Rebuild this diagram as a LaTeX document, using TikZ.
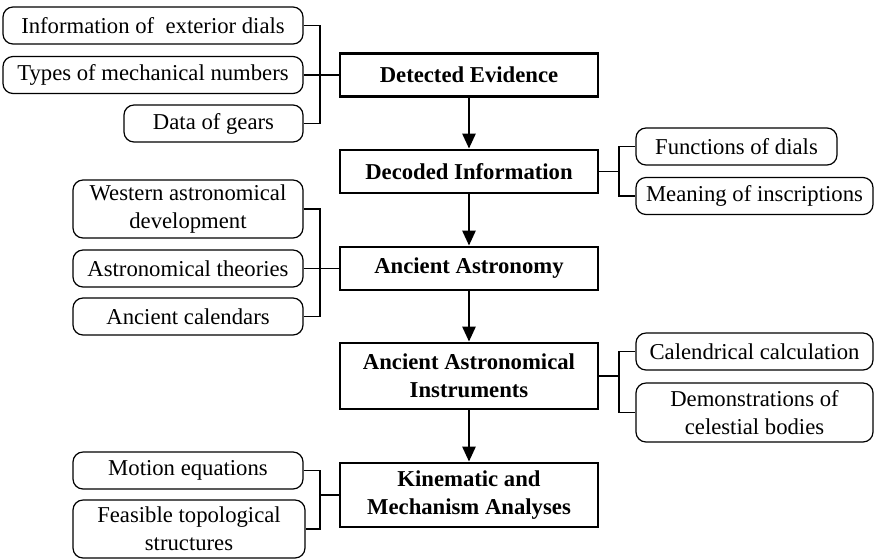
\documentclass[tikz,border=0pt]{standalone}
\usepackage{fontspec}
\setmainfont{Liberation Serif}
\usepackage{tikz}
\usetikzlibrary{arrows.meta}

\begin{document}
\begin{tikzpicture}[x=0.5pt,y=-0.5pt,
    every node/.style={font=\fontsize{11.35}{13.9}\selectfont},
    item/.style={draw,rounded corners=5pt,line width=0.6pt,inner sep=0pt,
        minimum height=18.5pt,align=center},
    stage/.style={draw,line width=1.4pt,inner sep=0pt,minimum width=129pt,
        minimum height=21.5pt,align=center,font=\fontsize{11.35}{13.9}\selectfont\bfseries},
    link/.style={line width=0.6pt},
    flow/.style={line width=1.3pt,-{Triangle[length=7.5pt,width=6.5pt]}}]
\useasboundingbox (0,0) rectangle (874,559);

\node[stage] (ev) at (469,75) {Detected Evidence};
\node[stage] (dec) at (469,171.5) {Decoded Information};
\node[stage] (ast) at (469,268.5) {Ancient Astronomy};
\node[stage,minimum height=33pt] (ins) at (469,376) {Ancient Astronomical\\Instruments};
\node[stage,minimum height=32pt] (kin) at (469,495) {Kinematic and\\Mechanism Analyses};

\node[item,minimum width=150pt] (info) at (153,25.5) {Information of\ \ exterior dials};
\node[item,minimum width=150pt] (types) at (153,75) {Types of mechanical numbers};
\node[item,minimum width=89.5pt] (gears) at (213.5,123.5) {Data of gears};

\node[item,minimum width=100.5pt] (func) at (736.5,146.5) {Functions of dials};
\node[item,minimum width=118.5pt] (mean) at (754.5,196) {Meaning of inscriptions};

\node[item,minimum width=115pt,minimum height=29pt] (west) at (188,209) {Western astronomical\\development};
\node[item,minimum width=115pt] (theo) at (188,268.5) {Astronomical theories};
\node[item,minimum width=115pt] (cal) at (188,316.5) {Ancient calendars};

\node[item,minimum width=118.5pt] (calc) at (754.5,351.5) {Calendrical calculation};
\node[item,minimum width=118.5pt,minimum height=29.5pt] (demo) at (754.5,412.5) {Demonstrations of\\celestial bodies};

\node[item,minimum width=115pt] (mot) at (188,470.5) {Motion equations};
\node[item,minimum width=116pt,minimum height=29pt] (feas) at (189,529) {Feasible topological\\structures};

\coordinate (j1) at (320,75);
\coordinate (j2) at (619,171.5);
\coordinate (j3) at (320,268.5);
\coordinate (j4) at (619,376);
\coordinate (j5) at (320,495);

\draw[link] (info.east) -| (j1) |- (gears.east);
\draw[link] (types.east) -- (ev.west);
\draw[link] (dec.east) -- (j2);
\draw[link] (func.west) -| (j2) |- (mean.west);
\draw[link] (west.east) -| (j3) |- (cal.east);
\draw[link] (theo.east) -- (ast.west);
\draw[link] (ins.east) -- (j4);
\draw[link] (calc.west) -| (j4) |- (demo.west);
\draw[link] (mot.east) -| (j5) |- (feas.east);
\draw[link] (j5) -- (kin.west);

\draw[flow] (ev) -- (dec);
\draw[flow] (dec) -- (ast);
\draw[flow] (ast) -- (ins);
\draw[flow] (ins) -- (kin);
\end{tikzpicture}
\end{document}
